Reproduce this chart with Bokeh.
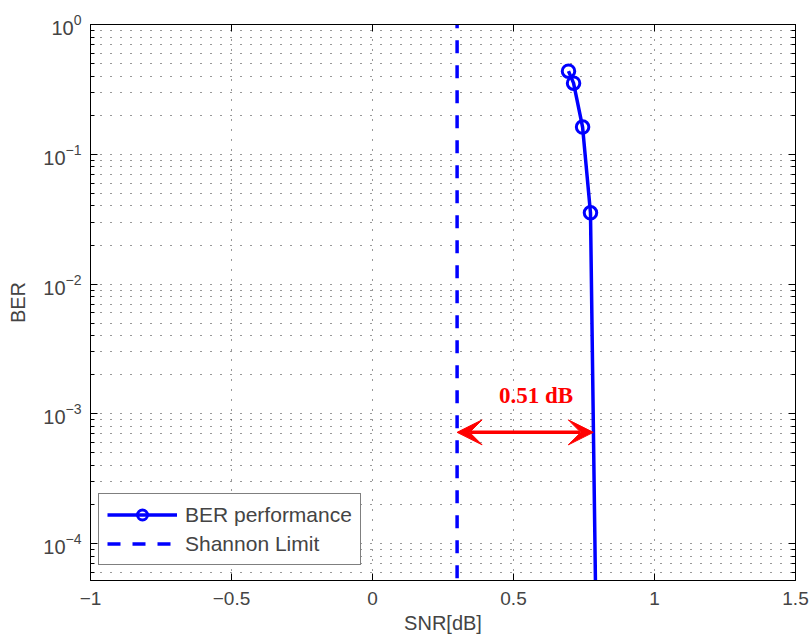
from bokeh.plotting import figure
from bokeh.models import (Range1d, LinearAxis, LogAxis, FixedTicker, CustomJSTickFormatter,
                          Arrow, VeeHead, Legend, LegendItem, ColumnDataSource)
from bokeh.core.properties import value
from bokeh.embed import file_html
from bokeh.resources import INLINE

# ---- data ----
snr_db = [0.695, 0.713, 0.745, 0.773, 0.795]
ber = [0.437, 0.353, 0.162, 0.0354, 1e-5]
shannon_limit = 0.30
gap_end = 0.783
gap_y = 7.2e-4
gap_label = "0.51 dB"
gap_label_x = 0.58
gap_label_y = 1.38e-3
x_ticks = [-1, -0.5, 0, 0.5, 1, 1.5]
y_ticks = [1e-4, 1e-3, 1e-2, 1e-1, 1e0]
y_minor = [m * 10.0 ** e for e in range(-5, 0) for m in range(2, 10)]

FONT = "Liberation Sans"

p = figure(width=812, height=639, output_backend="svg", toolbar_location=None,
           x_axis_type="linear", y_axis_type="log",
           x_range=Range1d(-1, 1.5), y_range=Range1d(5.2e-5, 1.0),
           min_border_left=90, min_border_right=17, min_border_top=24, min_border_bottom=59,
           background_fill_color="white", border_fill_color="white")
p.outline_line_color = "black"
p.outline_line_width = 1

xt = FixedTicker(ticks=x_ticks, minor_ticks=[])
yt = FixedTicker(ticks=y_ticks, minor_ticks=y_minor)
xfmt = CustomJSTickFormatter(code='return tick < 0 ? "\\u2212" + Math.abs(tick) : String(tick);')
blank = CustomJSTickFormatter(code='return "";')

for ax in p.xaxis:
    ax.ticker = xt
    ax.formatter = xfmt
    ax.major_tick_in = 7
    ax.major_tick_out = 0
    ax.minor_tick_in = 0
    ax.minor_tick_out = 0
    ax.major_label_text_font = FONT
    ax.major_label_text_font_size = "19px"
    ax.major_label_standoff = 11
    ax.axis_label = "SNR[dB]"
    ax.axis_label_text_font = FONT
    ax.axis_label_text_font_size = "20px"
    ax.axis_label_text_font_style = "normal"
    ax.axis_label_standoff = 4
    ax.axis_line_color = "black"

for ax in p.yaxis:
    ax.ticker = yt
    ax.major_tick_in = 7
    ax.major_tick_out = 0
    ax.minor_tick_in = 4
    ax.minor_tick_out = 0
    ax.major_label_text_font = FONT
    ax.major_label_text_font_size = "20px"
    ax.major_label_standoff = 9
    ax.axis_label = "BER"
    ax.axis_label_text_font = FONT
    ax.axis_label_text_font_size = "20px"
    ax.axis_label_text_font_style = "normal"
    ax.axis_label_standoff = 11
    ax.axis_line_color = "black"

top = LinearAxis(ticker=xt, formatter=blank, major_tick_in=7, major_tick_out=0,
                 minor_tick_in=0, minor_tick_out=0, major_label_standoff=0, axis_line_color="black")
right = LogAxis(ticker=yt, formatter=blank, major_tick_in=7, major_tick_out=0,
                minor_tick_in=4, minor_tick_out=0, major_label_standoff=0, axis_line_color="black")
p.add_layout(top, "above")
p.add_layout(right, "right")

p.xgrid.ticker = xt
p.ygrid.ticker = yt
for g in (p.xgrid, p.ygrid):
    g.grid_line_color = "#333333"
    g.grid_line_width = 1
    g.grid_line_dash = "1 9"
p.ygrid.minor_grid_line_color = "#333333"
p.ygrid.minor_grid_line_dash = "1 9"
p.xgrid.minor_grid_line_color = None

src = ColumnDataSource(dict(x=snr_db, y=ber))
ber_line = p.line("x", "y", source=src, line_color="blue", line_width=3.5)
ber_marks = p.scatter("x", "y", source=src, marker="circle", size=12.5, line_color="blue",
                      line_width=3, fill_color=None)

sh_src = ColumnDataSource(dict(x=[shannon_limit, shannon_limit], y=[1e-6, 10.0]))
sh_line = p.line("x", "y", source=sh_src, line_color="blue", line_width=3.5, line_dash="13 12")

p.add_layout(Arrow(x_start=shannon_limit, y_start=gap_y, x_end=gap_end, y_end=gap_y,
                   line_color="red", line_width=3.5,
                   end=VeeHead(size=25, fill_color="red", line_color="red", line_width=1),
                   start=VeeHead(size=25, fill_color="red", line_color="red", line_width=1)))

p.text(x=[gap_label_x], y=[gap_label_y], text=[gap_label], text_color="red",
       text_font=value("Liberation Serif"), text_font_size="23px", text_font_style="bold",
       text_align="center", text_baseline="middle")

legend = Legend(items=[LegendItem(label="BER performance", renderers=[ber_line, ber_marks]),
                       LegendItem(label="Shannon Limit", renderers=[sh_line])],
                location=(8, 15), orientation="vertical")
legend.label_text_font = FONT
legend.label_text_font_size = "21px"
legend.glyph_width = 70
legend.glyph_height = 25
legend.label_height = 25
legend.label_standoff = 8
legend.spacing = 4
legend.padding = 8
legend.margin = 0
legend.border_line_color = "black"
legend.border_line_width = 1.5
legend.background_fill_color = "white"
legend.background_fill_alpha = 1
p.add_layout(legend, "center")

open("out.html", "w").write(file_html(p, INLINE))
